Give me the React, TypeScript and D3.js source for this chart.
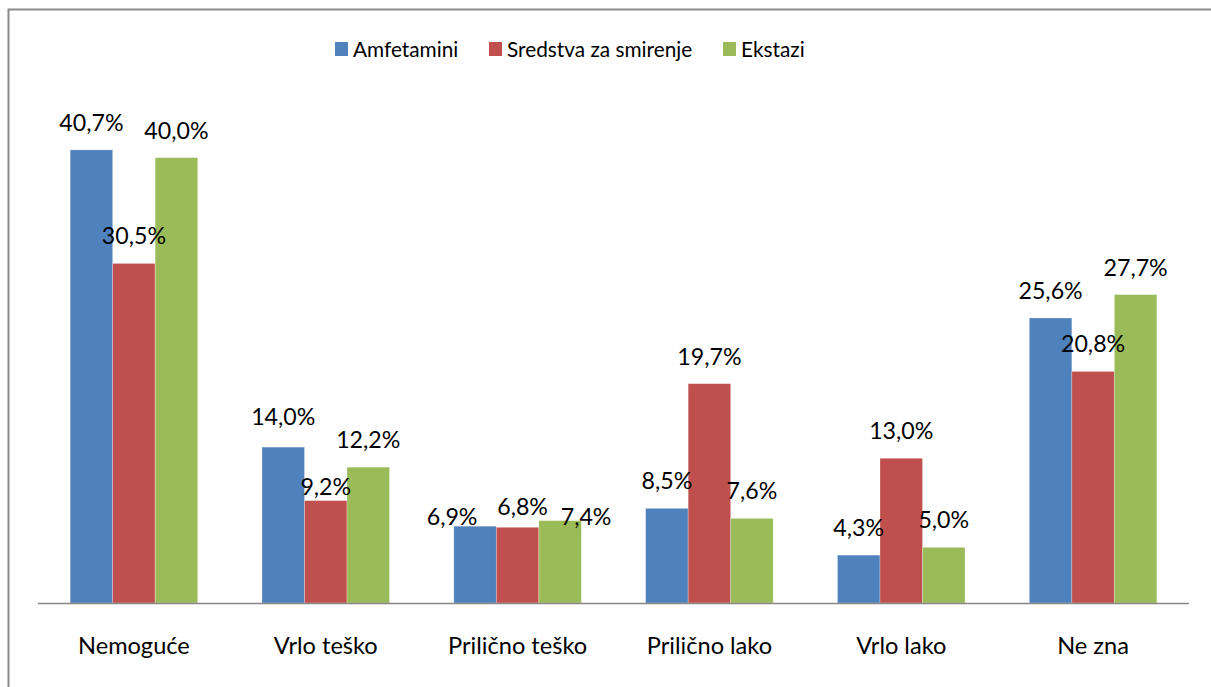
import React from "react";
import * as d3 from "d3";

const categories = ["Nemoguće", "Vrlo teško", "Prilično teško", "Prilično lako", "Vrlo lako", "Ne zna"];
const seriesNames = ["Amfetamini", "Sredstva za smirenje", "Ekstazi"];
const amfetamini = [40.7, 14.0, 6.9, 8.5, 4.3, 25.6];
const sredstva = [30.5, 9.2, 6.8, 19.7, 13.0, 20.8];
const ekstazi = [40.0, 12.2, 7.4, 7.6, 5.0, 27.7];
const seriesValues = [amfetamini, sredstva, ekstazi];
const colors = ["#4F81BD", "#C0504D", "#9BBB59"];
// label nudges (category index, series index, dx, dy) for overlapping labels
const labelNudges: [number, number, number, number][] = [
  [1, 0, 0, -3],
  [1, 1, 0, 13],
  [2, 0, -23, 18],
  [2, 1, 5, 7],
  [2, 2, 26, 23],
];

const W = 1211;
const H = 687;
const FONT = "Lato, 'Open Sans', sans-serif";

export default function App() {
  const x0 = d3.scaleBand<string>().domain(categories).range([38, 1189]).padding(0);
  const bw = x0.bandwidth();
  const barW = bw * 0.2216;
  const groupW = barW * 3;
  const y = d3.scaleLinear().domain([0, 45]).range([603, 102]);
  const fmt = (v: number) => d3.format(".1f")(v).replace(".", ",") + "%";

  const legendItems = [
    { x: 335, tx: 353 },
    { x: 489, tx: 507 },
    { x: 723, tx: 741 },
  ];

  return (
    <svg
      width={W}
      height={H}
      style={{ position: "absolute", left: 0, top: 0, background: "#fff" }}
      fontFamily={FONT}
    >
      <rect x={0} y={0} width={W} height={H} fill="#fff" />
      <rect x={8.5} y={9.5} width={1400} height={900} fill="none" stroke="#8a8a8a" strokeWidth={2} />
      {/* legend */}
      {seriesNames.map((s, i) => (
        <g key={s}>
          <rect x={legendItems[i].x} y={42} width={13} height={14} fill={colors[i]} />
          <text x={legendItems[i].tx} y={57} fontSize={20.8} fill="#000">
            {s}
          </text>
        </g>
      ))}
      {/* bars */}
      {categories.map((c, ci) => {
        const gx = (x0(c) as number) + bw / 2 - groupW / 2;
        return (
          <g key={c}>
            {seriesValues.map((vals, si) => (
              <rect
                key={si}
                x={gx + si * barW}
                y={y(vals[ci])}
                width={barW}
                height={y(0) - y(vals[ci])}
                fill={colors[si]}
                stroke="#ffffff"
                strokeOpacity={0.35}
                strokeWidth={0.75}
              />
            ))}
          </g>
        );
      })}
      {/* axis line */}
      <line x1={38} x2={1189} y1={603.5} y2={603.5} stroke="#868686" strokeWidth={1.5} />
      {/* data labels */}
      {categories.map((c, ci) => {
        const gx = (x0(c) as number) + bw / 2 - groupW / 2;
        return seriesValues.map((vals, si) => {
          const n = labelNudges.find((d) => d[0] === ci && d[1] === si);
          const dx = n ? n[2] : 0;
          const dy = n ? n[3] : 0;
          return (
            <text
              key={`${ci}-${si}`}
              x={gx + si * barW + barW / 2 + dx}
              y={y(vals[ci]) - 19 + dy}
              textAnchor="middle"
              fontSize={23.2}
              fill="#000"
            >
              {fmt(vals[ci])}
            </text>
          );
        });
      })}
      {/* category labels */}
      {categories.map((c) => (
        <text
          key={c}
          x={(x0(c) as number) + bw / 2}
          y={654}
          textAnchor="middle"
          fontSize={23.6}
          fill="#000"
        >
          {c}
        </text>
      ))}
    </svg>
  );
}
